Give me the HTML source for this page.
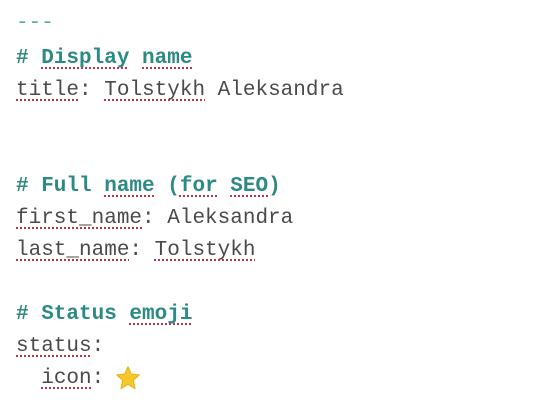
<!DOCTYPE html>
<html><head><style>
html,body{margin:0;padding:0;background:#fff;width:549px;height:409px;overflow:hidden}
.l{position:absolute;left:16px;font-family:"Liberation Mono","DejaVu Sans Mono",monospace;font-size:21px;line-height:32px;white-space:pre;color:#4a4a4a}
.h{color:#2b8a84;font-weight:bold}
.u{text-decoration:underline dotted #c0344a;text-underline-offset:4px;text-decoration-thickness:2px}
</style></head><body>
<div class="l h" style="top:8px;color:#5aaaa4;font-weight:normal">---</div>
<div class="l h" style="top:43px"># <span class="u">Display</span> <span class="u">name</span></div>
<div class="l" style="top:75px"><span class="u">title</span>: <span class="u">Tolstykh</span> Aleksandra</div>
<div class="l h" style="top:171px"># Full <span class="u">name</span> (<span class="u">for</span> <span class="u">SEO</span>)</div>
<div class="l" style="top:203px"><span class="u">first_name</span>: Aleksandra</div>
<div class="l" style="top:235px"><span class="u">last_name</span>: <span class="u">Tolstykh</span></div>
<div class="l h" style="top:299px"># Status <span class="u">emoji</span></div>
<div class="l" style="top:331px"><span class="u">status</span>:</div>
<div class="l" style="top:363px">  <span class="u">icon</span>: </div>
<svg style="position:absolute;left:115px;top:365px" width="26" height="26" viewBox="0 0 24 24"><polygon points="12,1.5 15,8.5 22.5,9.2 16.8,14.2 18.5,21.8 12,17.8 5.5,21.8 7.2,14.2 1.5,9.2 9,8.5" fill="#f7c928" stroke="#eab21a" stroke-width="1" stroke-linejoin="round"/></svg>
</body></html>
